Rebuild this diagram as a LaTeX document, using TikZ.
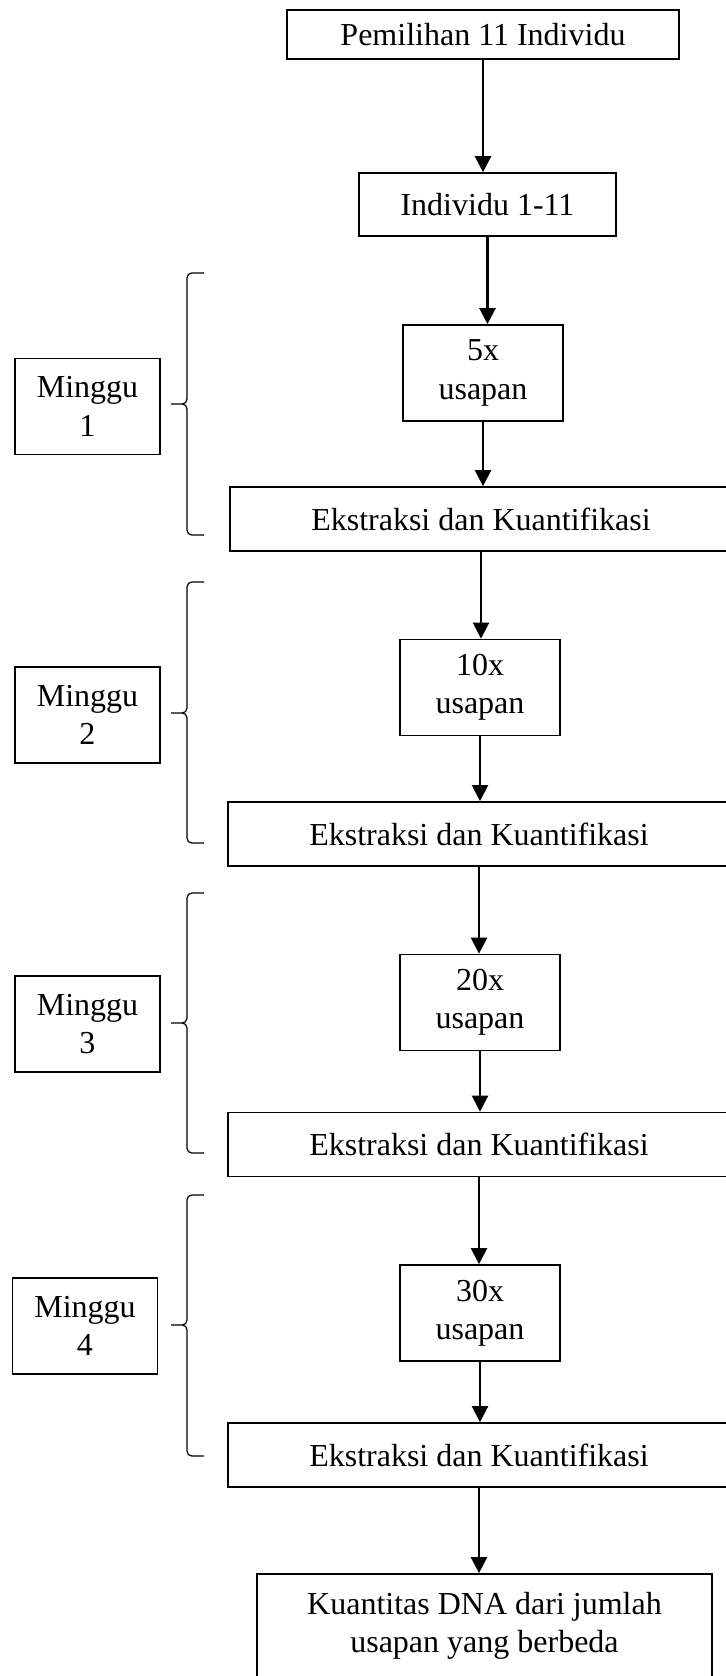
\documentclass[tikz,border=0pt]{standalone}
\usepackage{fontspec}
\setmainfont{Liberation Serif}
\usetikzlibrary{arrows.meta}

\begin{document}
\begin{tikzpicture}[x=0.375pt,y=-0.375pt,
  box/.style={draw,line width=0.63pt,inner sep=0pt,align=center,
    font=\fontsize{12}{14.4}\selectfont},
  usap/.style={box,minimum width=60pt,minimum height=36pt},
  ekst/.style={box,minimum width=188.3pt,minimum height=24pt},
  mg/.style={box,minimum width=54.4pt,minimum height=36pt},
  arr/.style={line width=0.87pt,-{Triangle[length=6pt,width=6pt]}},
  brc/.style={line width=0.45pt,rounded corners=1.8pt}]
\useasboundingbox (0,0) rectangle (726,1676);
\clip (0,0) rectangle (726,1676);

\node[box,minimum width=147pt,minimum height=18.4pt] (pilih) at (483,34.5) {Pemilihan 11 Individu};
\node[box,minimum width=96.4pt,minimum height=23.6pt] (indiv) at (487.5,204.5) {Individu 1-11};

% minggu 1
\node[usap] (usap1) at (483,373) {5x\\usapan};
\node[ekst] (ekst1) at (481,519) {Ekstraksi dan Kuantifikasi};
\node[mg] (mg1) at (87.5,406.5) {Minggu\\1};
\draw[brc] (204,273) -- (187,273) -- (187,404) -- (171,404)
           (204,535) -- (187,535) -- (187,404) -- (171,404);

% minggu 2
\node[usap] (usap2) at (480,687.5) {10x\\usapan};
\node[ekst] (ekst2) at (479,834) {Ekstraksi dan Kuantifikasi};
\node[mg] (mg2) at (87.5,715) {Minggu\\2};
\draw[brc] (204,582) -- (187,582) -- (187,713) -- (171,713)
           (204,843) -- (187,843) -- (187,713) -- (171,713);

% minggu 3
\node[usap] (usap3) at (480,1002.5) {20x\\usapan};
\node[ekst] (ekst3) at (479,1144.5) {Ekstraksi dan Kuantifikasi};
\node[mg] (mg3) at (87.5,1024) {Minggu\\3};
\draw[brc] (204,893) -- (187,893) -- (187,1023) -- (171,1023)
           (204,1153) -- (187,1153) -- (187,1023) -- (171,1023);

% minggu 4
\node[usap] (usap4) at (480,1313) {30x\\usapan};
\node[ekst] (ekst4) at (479,1455) {Ekstraksi dan Kuantifikasi};
\node[mg] (mg4) at (85,1326) {Minggu\\4};
\draw[brc] (204,1195) -- (187,1195) -- (187,1325) -- (171,1325)
           (204,1456) -- (187,1456) -- (187,1325) -- (171,1325);

\node[box,minimum width=170.6pt,minimum height=39pt] (hasil) at (484.5,1626)
  {Kuantitas DNA dari jumlah\\usapan yang berbeda};

% panah
\draw[arr] (pilih.south) -- (pilih.south |- indiv.north);
\draw[arr] (indiv.south) -- (indiv.south |- usap1.north);
\draw[arr] (usap1.south) -- (usap1.south |- ekst1.north);
\draw[arr] (ekst1.south) -- (ekst1.south |- usap2.north);
\draw[arr] (usap2.south) -- (usap2.south |- ekst2.north);
\draw[arr] (ekst2.south) -- (ekst2.south |- usap3.north);
\draw[arr] (usap3.south) -- (usap3.south |- ekst3.north);
\draw[arr] (ekst3.south) -- (ekst3.south |- usap4.north);
\draw[arr] (usap4.south) -- (usap4.south |- ekst4.north);
\draw[arr] (ekst4.south) -- (ekst4.south |- hasil.north);
\end{tikzpicture}
\end{document}
